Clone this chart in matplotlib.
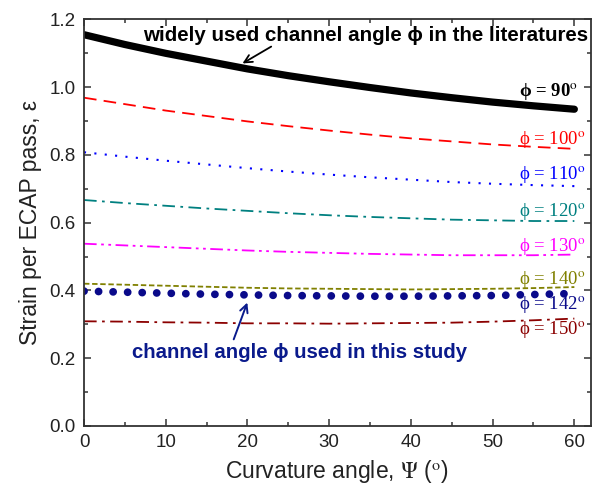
import matplotlib
matplotlib.use("Agg")
import matplotlib.pyplot as plt
from matplotlib.ticker import MultipleLocator

plt.rcParams['font.family'] = ['Liberation Sans', 'DejaVu Sans']
plt.rcParams['mathtext.fontset'] = 'stix'

psi = [0, 5, 10, 15, 20, 25, 30, 35, 40, 45, 50, 55, 60]
phi90 = [1.155, 1.126, 1.100, 1.077, 1.054, 1.034, 1.016, 0.999, 0.983, 0.969, 0.956, 0.945, 0.935]
phi100 = [0.969, 0.950, 0.931, 0.915, 0.899, 0.885, 0.872, 0.860, 0.849, 0.840, 0.831, 0.824, 0.818]
phi110 = [0.808, 0.795, 0.783, 0.772, 0.761, 0.751, 0.742, 0.734, 0.727, 0.720, 0.715, 0.711, 0.708]
phi120 = [0.667, 0.658, 0.650, 0.642, 0.635, 0.628, 0.622, 0.617, 0.613, 0.609, 0.607, 0.605, 0.605]
phi130 = [0.538, 0.533, 0.528, 0.523, 0.518, 0.514, 0.511, 0.508, 0.506, 0.504, 0.504, 0.504, 0.506]
phi140 = [0.420, 0.417, 0.414, 0.411, 0.408, 0.406, 0.405, 0.404, 0.403, 0.404, 0.405, 0.407, 0.410]
phi142 = [0.398, 0.395, 0.392, 0.389, 0.387, 0.385, 0.384, 0.383, 0.383, 0.384, 0.385, 0.388, 0.391]
phi150 = [0.309, 0.308, 0.306, 0.305, 0.303, 0.303, 0.302, 0.303, 0.304, 0.305, 0.308, 0.312, 0.317]

labels = ["90", "100", "110", "120", "130", "140", "142", "150"]
label_y = [0.985, 0.842, 0.740, 0.630, 0.528, 0.431, 0.356, 0.282]

fig = plt.figure(figsize=(6.0, 4.86), dpi=100)
ax = fig.add_axes([0.14, 0.1235, 0.8445, 0.8365])

ax.plot(psi, phi90, color='black', lw=5.2, solid_capstyle='round')
ax.plot(psi, phi100, color='#ff0000', lw=1.3, linestyle=(0, (7, 4)))
ax.plot(psi, phi110, color='#0000ff', lw=1.5, linestyle=(0, (1, 4)))
ax.plot(psi, phi120, color='#008080', lw=1.3, linestyle=(0, (7, 3, 1.5, 3)))
ax.plot(psi, phi130, color='#ff00ff', lw=1.3, linestyle=(0, (7, 2.5, 1.5, 2.5, 1.5, 2.5)))
ax.plot(psi, phi140, color='#808000', lw=1.3, linestyle=(0, (3, 1.5)))
ax.plot(psi, phi142, color='#0a0a8a', lw=5.6, linestyle=(0, (0.01, 1.86)), dash_capstyle='round')
ax.plot(psi, phi150, color='#8b0000', lw=1.3, linestyle=(0, (7, 3, 1.5, 3)))

colors = ['black', '#ff0000', '#0000ff', '#008080', '#ff00ff', '#808000', '#0a0a8a', '#8b0000']
for lab, yy, c in zip(labels, label_y, colors):
    w = 'bold' if lab == "90" else 'normal'
    ax.text(53.2, yy, "\u03d5 = " + lab + r"$^{\mathrm{o}}$", color=c, fontsize=13.5,
            family=['Liberation Serif', 'DejaVu Serif'], fontweight=w, ha='left', va='center')

ax.text(34.5, 1.152, "widely used channel angle \u03d5 in the literatures", fontsize=14.8,
        fontweight='bold', ha='center', va='center', color='black',
        family=['Liberation Sans', 'DejaVu Sans'])
ax.annotate("", xy=(19.1, 1.066), xytext=(23.2, 1.124),
            arrowprops=dict(arrowstyle='->', color='black', lw=1.3, mutation_scale=14))

ax.text(26.4, 0.218, "channel angle \u03d5 used in this study", fontsize=14.7,
        fontweight='bold', ha='center', va='center', color='#0a1a8c',
        family=['Liberation Sans', 'DejaVu Sans'])
ax.annotate("", xy=(20.1, 0.372), xytext=(18.2, 0.248),
            arrowprops=dict(arrowstyle='->', color='#0a1a8c', lw=1.4, mutation_scale=14))

ax.set_xlim(0, 62)
ax.set_ylim(0, 1.2)
ax.xaxis.set_major_locator(MultipleLocator(10))
ax.xaxis.set_minor_locator(MultipleLocator(5))
ax.yaxis.set_major_locator(MultipleLocator(0.2))
ax.yaxis.set_minor_locator(MultipleLocator(0.1))
ax.set_xticks([0, 10, 20, 30, 40, 50, 60])
ax.tick_params(which='both', direction='in', top=True, right=True, width=1.1, colors='#333333',
               labelcolor='#222222')
ax.tick_params(which='major', length=5, labelsize=13.5, pad=6)
ax.tick_params(which='minor', length=3)
for s in ax.spines.values():
    s.set_linewidth(1.3)
    s.set_color('#333333')
ax.yaxis.set_major_formatter(matplotlib.ticker.FormatStrFormatter('%.1f'))

ax.set_xlabel(r"Curvature angle, $\Psi$ ($^{\mathrm{o}}$)", fontsize=16.5, color='#222222', labelpad=5)
ax.set_ylabel("Strain per ECAP pass, \u03b5", fontsize=16.5, color='#222222', labelpad=5)

fig.savefig("out.png", dpi=100)
